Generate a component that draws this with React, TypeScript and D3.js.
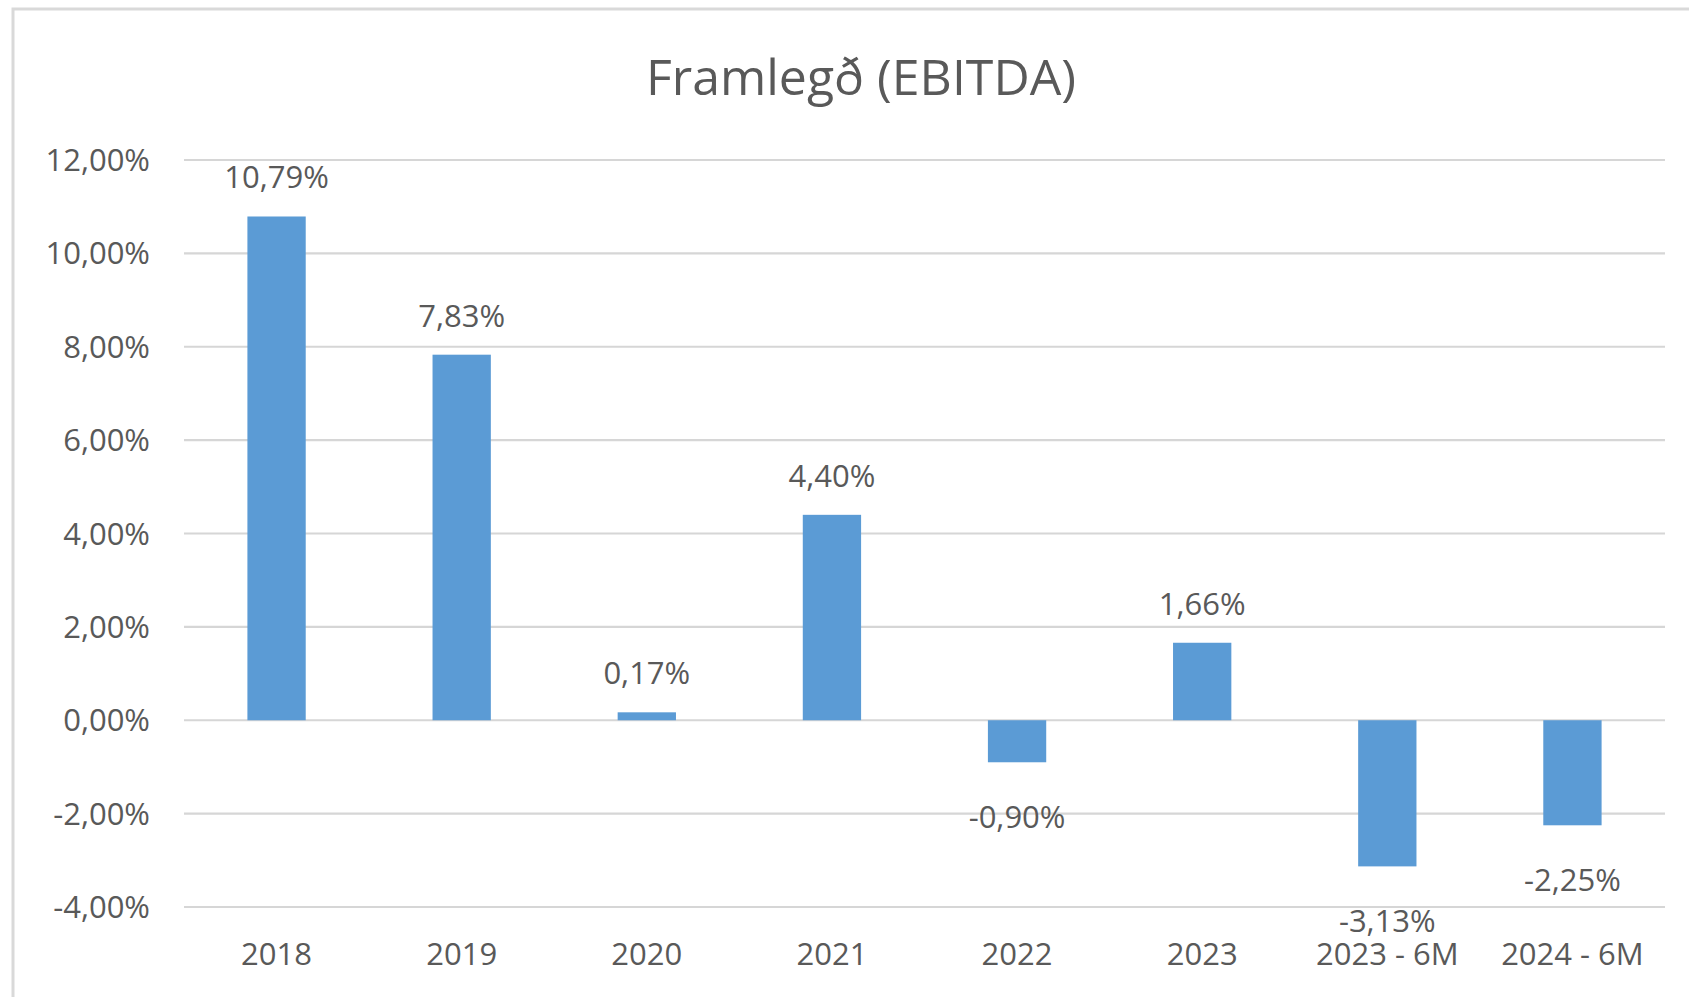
import React from "react";
import * as d3 from "d3";

const categories = ["2018", "2019", "2020", "2021", "2022", "2023", "2023 - 6M", "2024 - 6M"];
const values = [10.79, 7.83, 0.17, 4.4, -0.9, 1.66, -3.13, -2.25];
const yTicks = [-4, -2, 0, 2, 4, 6, 8, 10, 12];

const fmt = (v: number) => v.toFixed(2).replace(".", ",") + "%";

const App = () => {
  const width = 1689;
  const height = 997;
  const margin = { top: 160, right: 24, bottom: 90, left: 184 };
  const font = "'Open Sans', sans-serif";
  const textColor = "#595959";
  const fontSize = 31;

  const xScale = d3
    .scaleBand<string>()
    .domain(categories)
    .range([margin.left, width - margin.right])
    .paddingInner(0.685)
    .paddingOuter(0.3425);

  const yScale = d3.scaleLinear().domain([-4, 12]).range([907, 160]);

  return (
    <div style={{ position: "fixed", left: 0, top: 0 }}>
      <svg width={width} height={height} style={{ display: "block", background: "#fff" }}>
        {/* chart border */}
        <rect x={13} y={9} width={width} height={height} fill="none" stroke="#D9D9D9" strokeWidth={3} />

        <text x={861} y={95} textAnchor="middle" fontFamily={font} fontSize={50} fill={textColor}>
          Framlegð (EBITDA)
        </text>

        {/* gridlines + y labels */}
        {yTicks.map((t) => (
          <g key={t}>
            <line
              x1={margin.left}
              x2={width - margin.right}
              y1={yScale(t)}
              y2={yScale(t)}
              stroke="#D6D6D6"
              strokeWidth={2.2}
            />
            <text
              x={150}
              y={yScale(t) + 11}
              textAnchor="end"
              fontFamily={font}
              fontSize={fontSize}
              fill={textColor}
            >
              {fmt(t)}
            </text>
          </g>
        ))}

        {/* bars */}
        {values.map((v, i) => {
          const x = xScale(categories[i]) || 0;
          const y0 = yScale(0);
          const y1 = yScale(v);
          return (
            <rect
              key={i}
              x={x}
              y={Math.min(y0, y1)}
              width={xScale.bandwidth()}
              height={Math.abs(y1 - y0)}
              fill="#5B9BD5"
            />
          );
        })}

        {/* data labels */}
        {values.map((v, i) => {
          const cx = (xScale(categories[i]) || 0) + xScale.bandwidth() / 2;
          const y = v >= 0 ? yScale(v) - 28 : yScale(v) + 66;
          return (
            <text key={i} x={cx} y={y} textAnchor="middle" fontFamily={font} fontSize={fontSize} fill={textColor}>
              {fmt(v)}
            </text>
          );
        })}

        {/* x labels */}
        {categories.map((c) => (
          <text
            key={c}
            x={(xScale(c) || 0) + xScale.bandwidth() / 2}
            y={965}
            textAnchor="middle"
            fontFamily={font}
            fontSize={fontSize}
            fill={textColor}
          >
            {c}
          </text>
        ))}
      </svg>
    </div>
  );
};

export default App;
